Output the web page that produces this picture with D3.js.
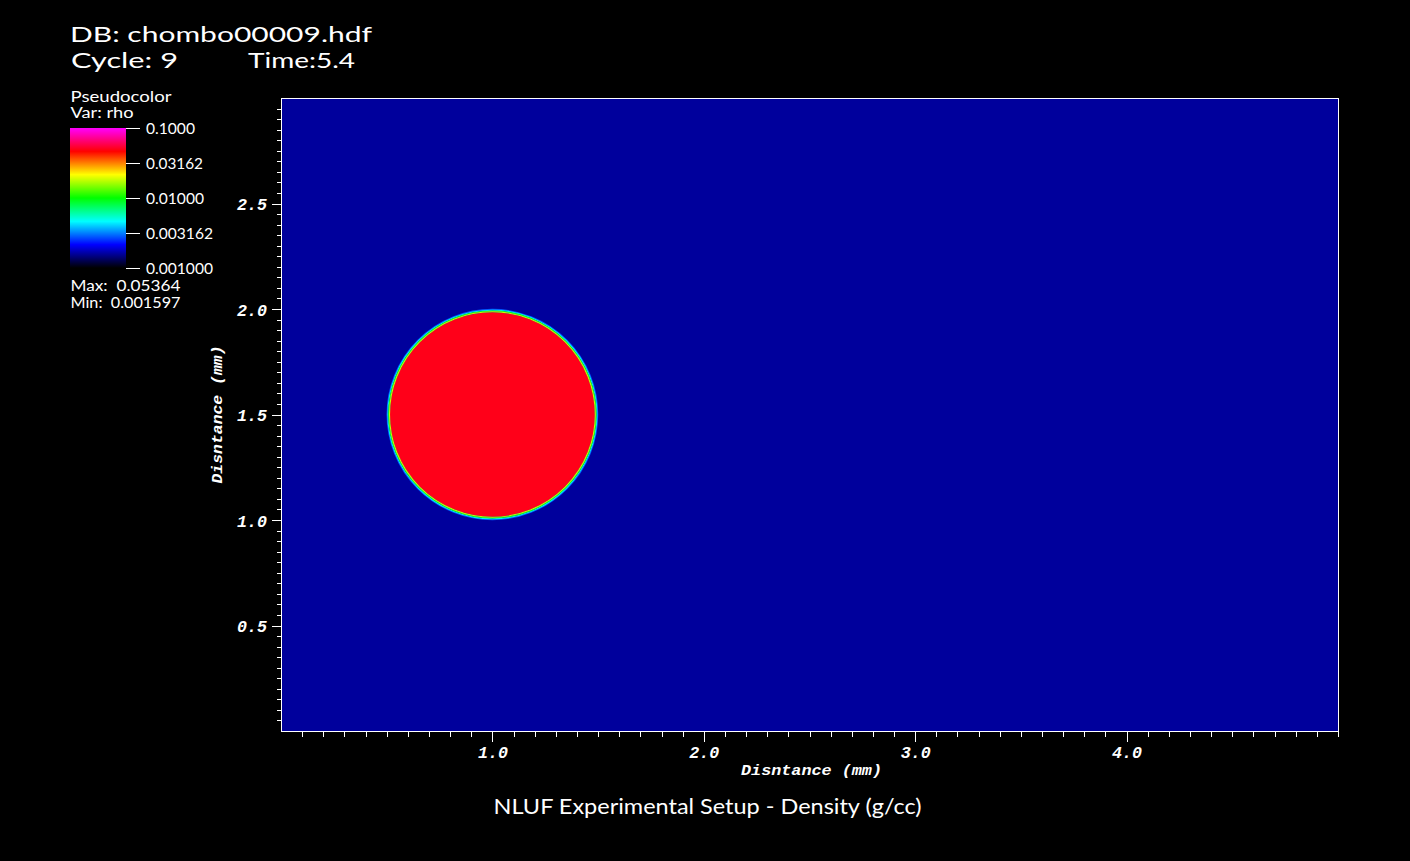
<!DOCTYPE html>
<html>
<head>
<meta charset="utf-8">
<script src="https://cdn.jsdelivr.net/npm/d3@7"></script>
<style>
  html, body { margin: 0; padding: 0; background: #000; }
  svg { display: block; }
</style>
</head>
<body>
<script>
// ---------- data ----------
const dbName = "DB: chombo00009.hdf";
const cycleLabel = "Cycle: 9";
const timeLabel = "Time:5.4";
const plotTitle = "NLUF Experimental Setup - Density (g/cc)";
const xAxisTitle = "Disntance (mm)";
const yAxisTitle = "Disntance (mm)";
const xDomain = [0, 5];
const yDomain = [0, 3];
const xMajorTicks = [1, 2, 3, 4];
const yMajorTicks = [0.5, 1.0, 1.5, 2.0, 2.5];
const xMinorStep = 0.1;
const yMinorStep = 0.05;

// colour table (log scale from 0.001 to 0.1)
const colorRange = [0.001, 0.1];
const colorStops = ["#000000", "#0000ff", "#00ffff", "#00ff00", "#ffff00", "#ff0000", "#ff00ff"];
const legendTicks = [0.1, 0.03162, 0.01, 0.003162, 0.001];
const legendTickLabels = ["0.1000", "0.03162", "0.01000", "0.003162", "0.001000"];
const maxLabel = "Max:  0.05364";
const minLabel = "Min:  0.001597";

// field description (density)
const rhoBackground = 0.001597;   // ambient gas
const rhoBubble = 0.05;           // dense bubble
const bubbleCenter = [1.0, 1.5];  // mm
const bubbleRadius = 0.5;         // mm
const rhoEdge = [0.0028, 0.0045, 0.009, 0.018]; // interface cells, outer -> inner

// ---------- layout ----------
const W = 1410, H = 861;
const plot = { left: 281, right: 1338, top: 98, bottom: 731 };

const svg = d3.select("body").append("svg").attr("width", W).attr("height", H);
svg.append("rect").attr("width", W).attr("height", H).attr("fill", "#000");

const x = d3.scaleLinear().domain(xDomain).range([plot.left, plot.right]);
const y = d3.scaleLinear().domain(yDomain).range([plot.bottom, plot.top]);

const lo = Math.log10(colorRange[0]), hi = Math.log10(colorRange[1]);
const colorDomain = colorStops.map((_, i) => Math.pow(10, lo + (hi - lo) * i / (colorStops.length - 1)));
const color = d3.scaleLog().domain(colorDomain).range(colorStops).clamp(true);

const sans = "Lato, 'Noto Sans', sans-serif";
const mono = "'Liberation Mono', 'DejaVu Sans Mono', monospace";

// ---------- header ----------
const headSize = 21.8;
svg.append("text").attr("x", 70).attr("y", 41.5).attr("fill", "#fff")
  .attr("font-family", sans).attr("font-size", headSize)
  .attr("textLength", 302).attr("lengthAdjust", "spacingAndGlyphs").text(dbName);
svg.append("text").attr("x", 71).attr("y", 68).attr("fill", "#fff")
  .attr("font-family", sans).attr("font-size", headSize)
  .attr("textLength", 107).attr("lengthAdjust", "spacingAndGlyphs").text(cycleLabel);
svg.append("text").attr("x", 248).attr("y", 68).attr("fill", "#fff")
  .attr("font-family", sans).attr("font-size", headSize)
  .attr("textLength", 107).attr("lengthAdjust", "spacingAndGlyphs").text(timeLabel);

// ---------- legend ----------
svg.append("text").attr("x", 70.5).attr("y", 101.5).attr("fill", "#fff")
  .attr("font-family", sans).attr("font-size", 15.5)
  .attr("textLength", 101).attr("lengthAdjust", "spacingAndGlyphs").text("Pseudocolor");
svg.append("text").attr("x", 70.5).attr("y", 118.3).attr("fill", "#fff")
  .attr("font-family", sans).attr("font-size", 15.5)
  .attr("textLength", 63).attr("lengthAdjust", "spacingAndGlyphs").text("Var: rho");

const cb = { x: 70, y: 128, w: 56, h: 140 };
const defs = svg.append("defs");
const grad = defs.append("linearGradient").attr("id", "cbgrad")
  .attr("x1", 0).attr("y1", 1).attr("x2", 0).attr("y2", 0);
colorStops.forEach((c, i) => {
  grad.append("stop").attr("offset", i / (colorStops.length - 1)).attr("stop-color", c);
});
svg.append("rect").attr("x", cb.x).attr("y", cb.y).attr("width", cb.w).attr("height", cb.h)
  .attr("fill", "url(#cbgrad)");

const cbScale = d3.scaleLog().domain(colorRange).range([cb.y + cb.h, cb.y]);
const legendWidths = [49, 57, 58, 67, 67];
legendTicks.forEach((v, i) => {
  const yy = Math.round(cbScale(v)) + 0.5;
  svg.append("line").attr("x1", cb.x + cb.w).attr("x2", 140).attr("y1", yy).attr("y2", yy)
    .attr("stroke", "#fff").attr("stroke-width", 1).attr("shape-rendering", "crispEdges");
  svg.append("text").attr("x", 146).attr("y", yy).attr("dy", "0.36em").attr("fill", "#fff")
    .attr("font-family", sans).attr("font-size", 14.5)
    .attr("textLength", legendWidths[i]).attr("lengthAdjust", "spacingAndGlyphs")
    .text(legendTickLabels[i]);
});
svg.append("text").attr("x", 70.5).attr("y", 290.5).attr("fill", "#fff")
  .attr("font-family", sans).attr("font-size", 14.5).attr("xml:space", "preserve")
  .attr("textLength", 110).attr("lengthAdjust", "spacingAndGlyphs").text(maxLabel);
svg.append("text").attr("x", 70.5).attr("y", 308).attr("fill", "#fff")
  .attr("font-family", sans).attr("font-size", 14.5).attr("xml:space", "preserve")
  .attr("textLength", 110).attr("lengthAdjust", "spacingAndGlyphs").text(minLabel);

// ---------- field ----------
const clipId = "plotclip";
defs.append("clipPath").attr("id", clipId).append("rect")
  .attr("x", plot.left).attr("y", plot.top)
  .attr("width", plot.right - plot.left).attr("height", plot.bottom - plot.top);
const field = svg.append("g").attr("clip-path", `url(#${clipId})`);
field.append("rect").attr("x", plot.left).attr("y", plot.top)
  .attr("width", plot.right - plot.left).attr("height", plot.bottom - plot.top)
  .attr("fill", color(rhoBackground));

const cx = x(bubbleCenter[0]), cy = y(bubbleCenter[1]);
const rx = x(bubbleRadius) - x(0), ry = y(0) - y(bubbleRadius);
const ringW = 0.8;
field.append("ellipse").attr("cx", cx).attr("cy", cy)
  .attr("rx", rx - rhoEdge.length * ringW).attr("ry", ry - rhoEdge.length * ringW)
  .attr("fill", color(rhoBubble));
rhoEdge.forEach((v, i) => {
  field.append("ellipse").attr("cx", cx).attr("cy", cy)
    .attr("rx", rx - (i + 0.5) * ringW).attr("ry", ry - (i + 0.5) * ringW)
    .attr("fill", "none").attr("stroke", color(v)).attr("stroke-width", ringW + 0.3);
});

// ---------- axes ----------
const xMinor = d3.range(xMinorStep, xDomain[1] + 1e-9, xMinorStep).map(v => +v.toFixed(4))
  .filter(v => !xMajorTicks.some(m => Math.abs(m - v) < 1e-6));
const yMinor = d3.range(yMinorStep, yDomain[1] - 1e-9, yMinorStep).map(v => +v.toFixed(4))
  .filter(v => !yMajorTicks.some(m => Math.abs(m - v) < 1e-6));

function styleAxis(g) {
  g.select(".domain").remove();
  g.selectAll(".tick line").attr("stroke", "#fff").attr("stroke-width", 1)
    .attr("shape-rendering", "crispEdges");
}

svg.append("g").attr("transform", `translate(0,${plot.bottom + 0.5})`)
  .call(d3.axisBottom(x).tickValues(xMinor).tickSize(5).tickFormat(""))
  .call(styleAxis);
const xMaj = svg.append("g").attr("transform", `translate(0,${plot.bottom + 0.5})`)
  .call(d3.axisBottom(x).tickValues(xMajorTicks).tickSize(10).tickFormat(d3.format(".1f")))
  .call(styleAxis);
xMaj.selectAll(".tick text").attr("y", 26).attr("dy", 0).attr("fill", "#fff")
  .attr("font-family", mono).attr("font-weight", "bold").attr("font-style", "italic")
  .attr("font-size", 17).attr("textLength", 30).attr("lengthAdjust", "spacingAndGlyphs");

svg.append("g").attr("transform", `translate(${plot.left + 0.5},0)`)
  .call(d3.axisLeft(y).tickValues(yMinor).tickSize(5).tickFormat(""))
  .call(styleAxis);
const yMaj = svg.append("g").attr("transform", `translate(${plot.left + 0.5},0)`)
  .call(d3.axisLeft(y).tickValues(yMajorTicks).tickSize(10).tickFormat(d3.format(".1f")))
  .call(styleAxis);
yMaj.selectAll(".tick text").attr("x", -14.5).attr("dy", "0.36em").attr("fill", "#fff")
  .attr("font-family", mono).attr("font-weight", "bold").attr("font-style", "italic")
  .attr("font-size", 17).attr("textLength", 30).attr("lengthAdjust", "spacingAndGlyphs");

// frame
svg.append("rect").attr("x", plot.left + 0.5).attr("y", plot.top + 0.5)
  .attr("width", plot.right - plot.left).attr("height", plot.bottom - plot.top)
  .attr("fill", "none").attr("stroke", "#fff").attr("stroke-width", 1)
  .attr("shape-rendering", "crispEdges");

// axis titles
svg.append("text").attr("x", (plot.left + plot.right) / 2 + 2).attr("y", 774.5)
  .attr("text-anchor", "middle").attr("fill", "#fff")
  .attr("font-family", mono).attr("font-weight", "bold").attr("font-style", "italic")
  .attr("font-size", 14).attr("textLength", 141).attr("lengthAdjust", "spacingAndGlyphs")
  .text(xAxisTitle);
svg.append("text").attr("transform", `translate(222,${(plot.top + plot.bottom) / 2}) rotate(-90)`)
  .attr("text-anchor", "middle").attr("fill", "#fff")
  .attr("font-family", mono).attr("font-weight", "bold").attr("font-style", "italic")
  .attr("font-size", 14).attr("textLength", 138).attr("lengthAdjust", "spacingAndGlyphs")
  .text(yAxisTitle);

// bottom title
svg.append("text").attr("x", 493.5).attr("y", 814).attr("fill", "#fff")
  .attr("font-family", sans).attr("font-size", 22)
  .attr("textLength", 428).attr("lengthAdjust", "spacingAndGlyphs")
  .text(plotTitle);
</script>
</body>
</html>
